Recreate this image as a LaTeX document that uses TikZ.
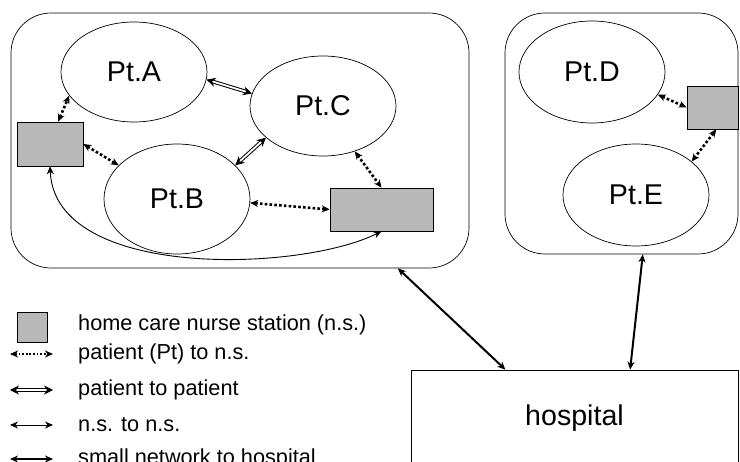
\documentclass[tikz,border=0pt]{standalone}
\usepackage{fontspec}
\setmainfont{Liberation Sans}
\usetikzlibrary{arrows.meta,shapes.geometric}

\begin{document}
\begin{tikzpicture}[x=1pt, y=-1pt, >={Stealth[length=8pt,width=7pt,inset=2.5pt]},
    pt/.style={draw, ellipse, line width=0.7pt, minimum width=146pt, minimum height=100pt, font=\fontsize{28.6}{30}\selectfont},
    ns/.style={draw, fill=black!28, line width=0.6pt, inner sep=0pt},
    net/.style={draw, rounded corners=40pt, line width=0.7pt, inner sep=0pt},
    dotlink/.style={<->, line width=2.6pt, dash pattern=on 2.6pt off 2.2pt},
    ptlink/.style={{Stealth[length=9pt,width=9pt,inset=3pt]}-{Stealth[length=9pt,width=9pt,inset=3pt]}, double, double distance=1.8pt, line width=1pt},
    nslink/.style={<->, line width=0.9pt},
    hosplink/.style={<->, line width=2pt},
    legend/.style={anchor=west, inner sep=0pt, font=\fontsize{21.7}{24}\selectfont}]
    \useasboundingbox (0,0) rectangle (740,462);

    % the two small networks
    \node[net, minimum width=458pt, minimum height=255pt] (netL) at (240,140.5) {};
    \node[net, minimum width=233pt, minimum height=241pt] (netR) at (621.5,133.5) {};

    \node[pt] (ptA) at (134,72) {Pt.A};
    \node[pt] (ptC) at (323,106) {Pt.C};
    \node[pt, minimum height=110pt] (ptB) at (177,199) {Pt.B};
    \node[pt, minimum height=102pt] (ptD) at (592,72) {Pt.D};
    \node[pt, minimum height=102pt] (ptE) at (636,195) {Pt.E};

    \node[ns, minimum width=66pt, minimum height=44pt] (ns1) at (50,144) {};
    \node[ns, minimum width=103pt, minimum height=43pt] (ns2) at (381.5,209.5) {};
    \node[ns, minimum width=51pt, minimum height=43pt] (ns3) at (712.5,107.5) {};

    \node[draw, line width=0.7pt, minimum width=327pt, minimum height=96pt, font=\fontsize{28.6}{30}\selectfont] (hosp) at (574.5,418) {hospital};

    \draw[ptlink] (ptA.-6) -- (ptC.170);
    \draw[ptlink] (ptC.209) -- (ptB.30);
    \draw[dotlink] (ns1.70) -- (ptA.200);
    \draw[dotlink] (ns1.east) -- (ptB.150);
    \draw[dotlink] (ptB.-3) -- (ns2.west);
    \draw[dotlink] (ptC.-55) -- (ns2.north);
    \draw[dotlink] (ptD.-19) -- (ns3.west);
    \draw[dotlink] (ns3.-80) -- (ptE.31);
    \draw[nslink] (ns2.south) .. controls (300,272) and (55,280) .. (ns1.south);

    \draw[hosplink] (netL.-39) -- (hosp.145);
    \draw[hosplink] (netR.-80) -- (hosp.41);

    % legend
    \node[ns, minimum width=30pt, minimum height=30pt] (keyns) at (32,327) {};
    \node[legend] (key1) at (78,325) {home care nurse station (n.s.)};
    \node[legend] (key2) at (78,354) {patient (Pt) to n.s.};
    \node[legend] (key3) at (78,390) {patient to patient};
    \node[legend] (key4) at (78,425) {n.s. to n.s.};
    \node[legend] (key5) at (78,459) {small network to hospital};

    \draw[dotlink, line width=1.8pt, dash pattern=on 1.8pt off 1.8pt] ([xshift=-68pt]key2.west) -- ([xshift=-25pt]key2.west);
    \draw[ptlink] ([xshift=-68pt]key3.west) -- ([xshift=-25pt]key3.west);
    \draw[nslink] ([xshift=-68pt]key4.west) -- ([xshift=-25pt]key4.west);
    \draw[hosplink] ([xshift=-68pt]key5.west) -- ([xshift=-25pt]key5.west);
\end{tikzpicture}
\end{document}
